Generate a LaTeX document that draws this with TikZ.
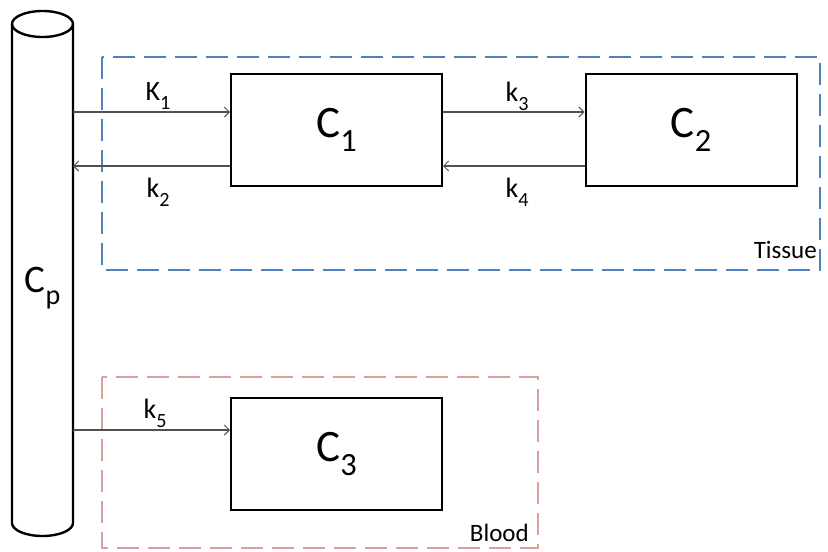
\documentclass[tikz,border=0pt]{standalone}
\usepackage{fontspec}
\setmainfont{Carlito}
\usepackage{graphicx}
\usetikzlibrary{arrows.meta}
\definecolor{tissueblue}{RGB}{79,129,189}
\definecolor{bloodpink}{RGB}{217,160,158}
\definecolor{arrgray}{RGB}{80,80,80}
\newcommand\lowsub[1]{\raisebox{-0.32em}{\scalebox{0.72}{#1}}}
\tikzset{
  comp/.style={draw=black, line width=2pt, minimum width=211pt, minimum height=112pt, inner sep=0pt, font=\fontsize{45}{48}\selectfont},
  rate/.style={font=\fontsize{28}{30}\selectfont, inner sep=0pt},
  arr/.style={draw=arrgray, line width=1.1pt, -{Straight Barb[length=5pt,width=10pt,line width=1pt]}},
  region/.style={line width=2.2pt, dash pattern=on 22pt off 9pt},
  tag/.style={font=\fontsize{25}{27}\selectfont, inner sep=0pt, anchor=base east}
}
\begin{document}
\begin{tikzpicture}[x=1pt,y=-1pt]
\useasboundingbox (0,0) rectangle (828,552);
% regions
\draw[region, draw=tissueblue] (102,57) rectangle (820,270);
\draw[region, draw=bloodpink] (102,377) rectangle (538,548);
\node[tag] (tissue) at (817,258) {Tissue};
\node[tag] (blood) at (529,541) {Blood};
% cylinder
\draw[line width=2.4pt] (12,24) -- (12,523) arc[start angle=180, end angle=360, x radius=30.5, y radius=-13] -- (73,24);
\draw[line width=2.4pt] (42.5,24) ellipse[x radius=30.5, y radius=13];
\node[font=\fontsize{39}{42}\selectfont, inner sep=0pt] (cp) at (42.5,288) {C\lowsub{p}};
\coordinate (cyl1) at (73,112);
\coordinate (cyl2) at (73,166);
\coordinate (cyl5) at (73,430);
% compartments
\node[comp] (c1) at (336.5,130) {C\lowsub{1}};
\node[comp] (c2) at (691,130) {C\lowsub{2}};
\node[comp] (c3) at (336.5,454) {C\lowsub{3}};
% arrows
\draw[arr] (cyl1) -- (c1.west |- cyl1);
\draw[arr] (c1.west |- cyl2) -- (cyl2);
\draw[arr] (c1.east |- cyl1) -- (c2.west |- cyl1);
\draw[arr] (c2.west |- cyl2) -- (c1.east |- cyl2);
\draw[arr] (cyl5) -- (c3.west |- cyl5);
% labels
\node[rate] (k1) at (158,96) {K\lowsub{1}};
\node[rate] (k2) at (158,192) {k\lowsub{2}};
\node[rate] (k3) at (517,96) {k\lowsub{3}};
\node[rate] (k4) at (517,192) {k\lowsub{4}};
\node[rate] (k5) at (155,413) {k\lowsub{5}};
\end{tikzpicture}
\end{document}
